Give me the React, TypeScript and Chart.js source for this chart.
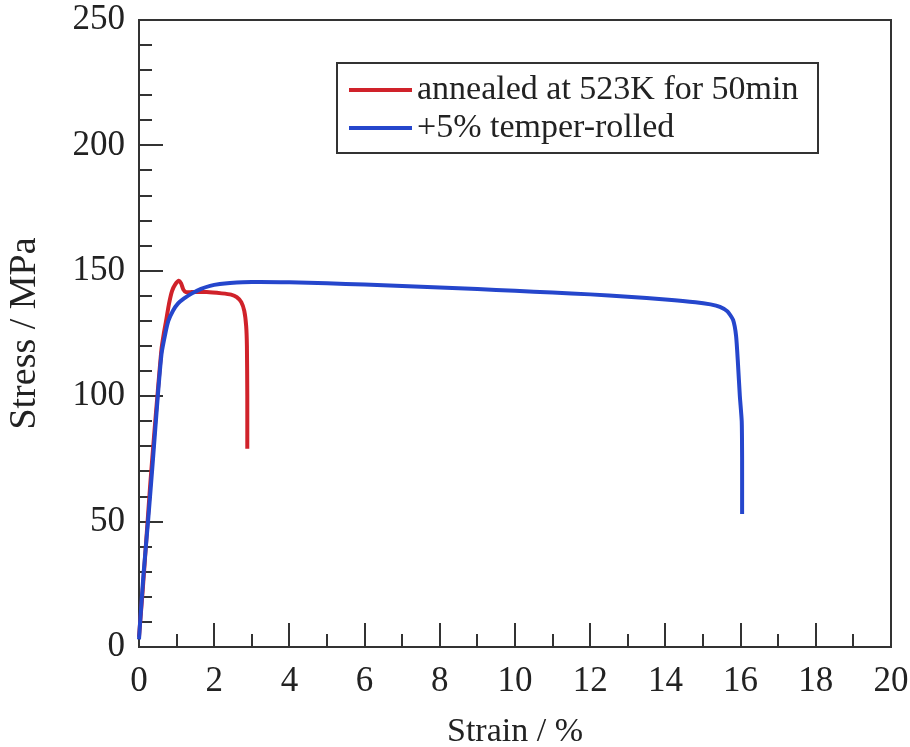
import React, { useEffect, useRef } from "react";
import { Chart, registerables } from "chart.js";

Chart.register(...registerables);

const FONT = "'Liberation Serif', 'Times New Roman', serif";

const seriesLabels = ["annealed at 523K for 50min", "+5% temper-rolled"];
const seriesColors = ["#d0222a", "#2546cc"];

const strainAnnealed = [0, 0.1, 0.2, 0.3, 0.4, 0.5, 0.6, 0.66, 0.72, 0.8, 0.88, 0.96, 1.06, 1.12, 1.18, 1.25, 1.4, 1.8, 2.2, 2.45, 2.6, 2.72, 2.8, 2.85, 2.87, 2.88, 2.88];
const stressAnnealed = [4, 23, 44, 65, 84, 102, 119, 125, 130, 137, 142, 144.5, 146, 145, 142.5, 141.5, 141.5, 141.5, 141, 140.5, 139.5, 137.5, 134, 128, 120, 100, 79];

const strainRolled = [0, 0.03, 0.12, 0.24, 0.37, 0.5, 0.6, 0.7, 0.78, 0.9, 1.04, 1.2, 1.41, 1.65, 1.89, 2.15, 2.42, 3, 4, 5, 6, 7, 8, 9, 10, 11, 12, 13, 14, 14.8, 15.2, 15.45, 15.65, 15.8, 15.88, 15.93, 15.98, 16.03, 16.04, 16.04];
const stressRolled = [3, 10, 29, 50, 74.5, 100, 117, 125, 130, 134, 137, 139, 141, 142.8, 144, 144.7, 145.1, 145.5, 145.4, 145, 144.5, 143.9, 143.3, 142.7, 142, 141.3, 140.6, 139.7, 138.6, 137.5, 136.6, 135.6, 133.8, 130.4, 124, 113, 100, 90, 75, 53];

const xMin = 0, xMax = 20, xMajor = 2, xMinor = 1;
const yMin = 0, yMax = 250, yMajor = 50, yMinor = 10;

const toPoints = (xs: number[], ys: number[]) => xs.map((x, i) => ({ x, y: ys[i] }));

const AXIS = "#333333";

const framePlugin = {
  id: "frameTicks",
  beforeDatasetsDraw(chart: any) {
    const { ctx, chartArea } = chart;
    const xs = chart.scales.x;
    const ys = chart.scales.y;
    ctx.save();
    ctx.strokeStyle = AXIS;
    ctx.lineWidth = 2;
    ctx.lineCap = "butt";
    for (let v = xMin; v <= xMax + 1e-9; v += xMinor) {
      const px = Math.round(xs.getPixelForValue(v));
      const major = Math.abs(v / xMajor - Math.round(v / xMajor)) < 1e-9;
      const len = major ? 24 : 13;
      ctx.beginPath();
      ctx.moveTo(px, chartArea.bottom);
      ctx.lineTo(px, chartArea.bottom - len);
      ctx.stroke();
    }
    for (let v = yMin; v <= yMax + 1e-9; v += yMinor) {
      const py = Math.round(ys.getPixelForValue(v));
      const major = Math.abs(v / yMajor - Math.round(v / yMajor)) < 1e-9;
      const len = major ? 24 : 13;
      ctx.beginPath();
      ctx.moveTo(chartArea.left, py);
      ctx.lineTo(chartArea.left + len, py);
      ctx.stroke();
    }
    ctx.strokeRect(chartArea.left, chartArea.top, chartArea.right - chartArea.left, chartArea.bottom - chartArea.top);
    ctx.restore();
  },
  afterDraw(chart: any) {
    const { ctx } = chart;
    ctx.save();
    const bx = 337, by = 63, bw = 481, bh = 90;
    ctx.fillStyle = "#ffffff";
    ctx.fillRect(bx, by, bw, bh);
    ctx.strokeStyle = AXIS;
    ctx.lineWidth = 2;
    ctx.strokeRect(bx, by, bw, bh);
    const rows = [90, 128];
    chart.data.datasets.forEach((ds: any, i: number) => {
      const ly = rows[i];
      ctx.strokeStyle = ds.borderColor;
      ctx.lineWidth = 4;
      ctx.beginPath();
      ctx.moveTo(349, ly);
      ctx.lineTo(412, ly);
      ctx.stroke();
      ctx.fillStyle = "#222222";
      ctx.font = `34px ${FONT}`;
      ctx.textAlign = "left";
      ctx.textBaseline = "alphabetic";
      ctx.fillText(ds.label, 417, ly + 9);
    });
    ctx.restore();
  },
};

export default function App() {
  const ref = useRef<HTMLCanvasElement | null>(null);
  useEffect(() => {
    document.body.style.margin = "0";
    const canvas = ref.current;
    if (!canvas) return;
    const chart = new Chart(canvas, {
      type: "line",
      data: {
        datasets: [
          {
            label: seriesLabels[0],
            data: toPoints(strainAnnealed, stressAnnealed),
            borderColor: seriesColors[0],
            backgroundColor: seriesColors[0],
            borderWidth: 4,
            pointRadius: 0,
            tension: 0.2,
            order: 1,
            clip: 6,
          },
          {
            label: seriesLabels[1],
            data: toPoints(strainRolled, stressRolled),
            borderColor: seriesColors[1],
            backgroundColor: seriesColors[1],
            borderWidth: 4,
            pointRadius: 0,
            tension: 0.2,
            order: 0,
            clip: 6,
          },
        ],
      },
      options: {
        animation: false,
        responsive: true,
        maintainAspectRatio: false,
        parsing: false as any,
        layout: { padding: { top: 20, right: 19, left: 0, bottom: 0 } },
        plugins: { legend: { display: false }, tooltip: { enabled: false } },
        scales: {
          x: {
            type: "linear",
            min: xMin,
            max: xMax,
            grid: { display: false, drawTicks: false },
            border: { display: false },
            ticks: {
              stepSize: xMajor,
              padding: 14,
              color: "#222222",
              font: { family: FONT, size: 35 },
              maxRotation: 0,
              autoSkip: false,
            },
            title: {
              display: true,
              text: "Strain / %",
              color: "#222222",
              font: { family: FONT, size: 34, lineHeight: 0.85 },
              padding: 0,
            },
            afterFit: (s: any) => {
              s.height = 100;
              s.paddingLeft = 0;
              s.paddingRight = 0;
              s.paddingTop = 0;
              s.paddingBottom = 0;
            },
          },
          y: {
            type: "linear",
            min: yMin,
            max: yMax,
            grid: { display: false, drawTicks: false },
            border: { display: false },
            ticks: {
              stepSize: yMajor,
              padding: 14,
              color: "#222222",
              font: { family: FONT, size: 35 },
              autoSkip: false,
            },
            title: {
              display: true,
              text: "Stress / MPa",
              color: "#222222",
              font: { family: FONT, size: 38, lineHeight: 1.2 },
              padding: { top: 2, bottom: 0 },
            },
            afterFit: (s: any) => {
              s.width = 139;
              s.paddingLeft = 0;
              s.paddingRight = 0;
              s.paddingTop = 0;
              s.paddingBottom = 0;
            },
          },
        },
      },
      plugins: [framePlugin],
    });
    return () => chart.destroy();
  }, []);
  return (
    <div style={{ position: "absolute", left: 0, top: 0, width: 910, height: 747, background: "#ffffff" }}>
      <canvas ref={ref} />
    </div>
  );
}
